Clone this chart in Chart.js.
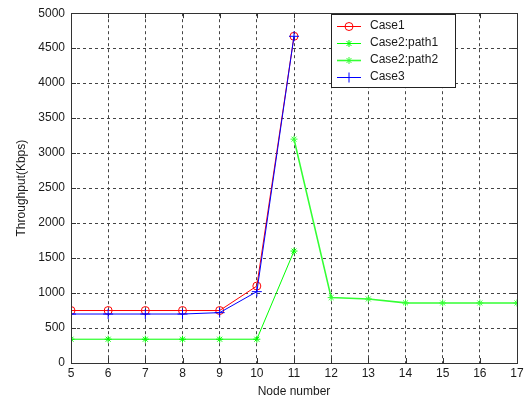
<!DOCTYPE html>
<html><head><meta charset="utf-8">
<script src="https://cdn.jsdelivr.net/npm/chart.js@4"></script>
<style>html,body{margin:0;padding:0;background:#fff}#wrap{width:531px;height:399px}</style>
</head><body><div id="wrap"><canvas id="c" width="531" height="399"></canvas></div>
<script>
const nodesA = [5,6,7,8,9,10,11];
const nodesB = [11,12,13,14,15,16,17];
const case1 = [750,750,750,750,750,1100,4670];
const path1 = [340,340,340,340,340,340,1600];
const path2 = [3200,935,915,860,858,858,858];
const case3 = [700,700,700,700,720,1020,4670];
const xTicks = [5,6,7,8,9,10,11,12,13,14,15,16,17];
const yTicks = [0,500,1000,1500,2000,2500,3000,3500,4000,4500,5000];
const legendNames = ['Case1','Case2:path1','Case2:path2','Case3'];

const FONT = '"Liberation Sans", Arial, sans-serif';
const TXT = '#1a1a1a';
const pts = (xs, ys) => xs.map((x,i)=>({x:x,y:ys[i]}));

const styles = [
  {color:'#ff0000', marker:'circle', r:4, w:1},
  {color:'#00ff00', marker:'star', r:3.5, w:1},
  {color:'#33ff33', marker:'star', r:3.5, w:1.6},
  {color:'#0000ff', marker:'cross', r:5, w:1}
];

function drawMarker(ctx, type, x, y, r, color){
  ctx.save();
  ctx.strokeStyle = color; ctx.lineWidth = 1;
  ctx.beginPath();
  if(type==='circle'){ ctx.arc(x,y,r,0,Math.PI*2); }
  else if(type==='cross'){ ctx.moveTo(x-r,y); ctx.lineTo(x+r,y); ctx.moveTo(x,y-r); ctx.lineTo(x,y+r); }
  else { ctx.moveTo(x-r,y); ctx.lineTo(x+r,y); ctx.moveTo(x,y-r); ctx.lineTo(x,y+r);
    const d=r*0.7; ctx.moveTo(x-d,y-d); ctx.lineTo(x+d,y+d); ctx.moveTo(x-d,y+d); ctx.lineTo(x+d,y-d); }
  ctx.stroke(); ctx.restore();
}

const framePlugin = {
  id:'frame',
  afterDraw(chart){
    const {ctx, chartArea:a, scales} = chart;
    ctx.save();
    ctx.strokeStyle = '#333'; ctx.lineWidth = 1;
    ctx.strokeRect(Math.round(a.left)+0.5, Math.round(a.top)+0.5, Math.round(a.right-a.left), Math.round(a.bottom-a.top));
    ctx.beginPath();
    xTicks.forEach(v=>{ const px=Math.round(scales.x.getPixelForValue(v))+0.5;
      ctx.moveTo(px,a.bottom); ctx.lineTo(px,a.bottom-5); ctx.moveTo(px,a.top); ctx.lineTo(px,a.top+5); });
    yTicks.forEach(v=>{ const py=Math.round(scales.y.getPixelForValue(v))+0.5;
      ctx.moveTo(a.left,py); ctx.lineTo(a.left+5,py); ctx.moveTo(a.right,py); ctx.lineTo(a.right-5,py); });
    ctx.stroke();
    // legend
    const lx=331.5, ly=14.5, lw=124, lh=73;
    ctx.fillStyle='#fff'; ctx.fillRect(lx,ly,lw,lh);
    ctx.strokeStyle='#222'; ctx.strokeRect(lx,ly,lw,lh);
    ctx.font = '12px '+FONT; ctx.textBaseline='middle';
    legendNames.forEach((n,i)=>{
      const y = 26 + i*17;
      const s = styles[i];
      ctx.strokeStyle = s.color; ctx.lineWidth = s.w;
      ctx.beginPath(); ctx.moveTo(337,y+0.5); ctx.lineTo(361,y+0.5); ctx.stroke();
      ctx.lineWidth = 1;
      drawMarker(ctx, s.marker, 349, y+0.5, s.r, s.color);
      ctx.fillStyle=TXT; ctx.fillText(n, 370, y);
    });
    ctx.restore();
  }
};

function ds(label, data, i, order){
  const s = styles[i];
  return {label, data, borderColor:s.color, backgroundColor:'rgba(0,0,0,0)', borderWidth:s.w,
    pointStyle:s.marker, pointRadius:s.r, pointBorderColor:s.color, pointBackgroundColor:'rgba(0,0,0,0)',
    pointBorderWidth:1, tension:0, order};
}

new Chart(document.getElementById('c'), {
  type:'line',
  data:{datasets:[
    ds(legendNames[0], pts(nodesA, case1), 0, 3),
    ds(legendNames[1], pts(nodesA, path1), 1, 2),
    ds(legendNames[2], pts(nodesB, path2), 2, 1),
    ds(legendNames[3], pts(nodesA, case3), 3, 0)
  ]},
  options:{
    responsive:false, animation:false, devicePixelRatio:1,
    layout:{padding:{left:14,right:14,top:10,bottom:0}},
    plugins:{legend:{display:false}, tooltip:{enabled:false}},
    scales:{
      x:{type:'linear', min:5, max:17,
        afterBuildTicks(s){ s.ticks = xTicks.map(v=>({value:v})); },
        afterFit(s){ s.height = 36; },
        grid:{color:'#444', lineWidth:1, drawTicks:false, tickLength:0},
        border:{display:false, dash:[3,3]},
        ticks:{color:TXT, font:{family:FONT,size:12}, padding:3, maxRotation:0, callback:v=>String(v)},
        title:{display:true, text:'Node number', color:TXT, font:{family:FONT,size:12}, padding:{top:1,bottom:0}}
      },
      y:{type:'linear', min:0, max:5000,
        afterBuildTicks(s){ s.ticks = yTicks.map(v=>({value:v})); },
        afterFit(s){ s.width = 57; },
        grid:{color:'#444', lineWidth:1, drawTicks:false, tickLength:0},
        border:{display:false, dash:[3,3]},
        ticks:{color:TXT, font:{family:FONT,size:12}, padding:6, callback:v=>String(v)},
        title:{display:true, text:'Throughput(Kbps)', color:TXT, font:{family:FONT,size:12}, padding:{top:0,bottom:4}}
      }
    }
  },
  plugins:[framePlugin]
});
</script></body></html>
